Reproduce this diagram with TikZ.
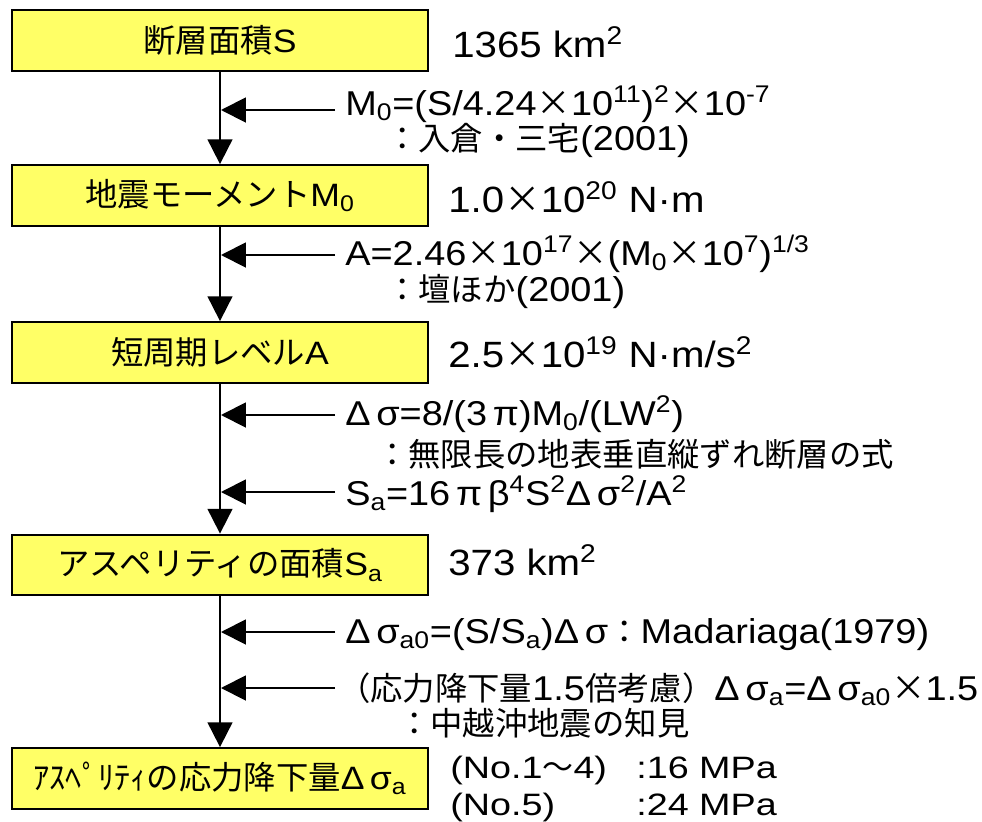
\documentclass[tikz,border=0pt]{standalone}
\usepackage{fontspec}
\setmainfont{Liberation Sans}[FakeStretch=1.1]
\newfontfamily\wide{Liberation Sans}[FakeStretch=1.22]
\newfontfamily\jp{Noto Sans CJK JP}
\usetikzlibrary{arrows.meta}
\definecolor{boxyellow}{RGB}{255,255,102}
\newcommand{\kt}{{\jp ×}}
\begin{document}
\begin{tikzpicture}[x=0.025cm,y=-0.025cm,font={\fontsize{24.5}{29}\selectfont},
	stage/.style={draw=black,line width=1.4pt,fill=boxyellow,minimum width=10.4cm,minimum height=1.52cm,inner sep=0pt,font={\fontsize{23}{27}\selectfont}},
	txt/.style={anchor=base west,inner sep=0pt},
	val/.style={txt,font={\fontsize{26}{30}\selectfont}},
	res/.style={txt,font={\wide\fontsize{22}{26}\selectfont}},
	flow/.style={line width=1.4pt,-{Triangle[length=0.62cm,width=0.62cm]}}]
	\useasboundingbox (0,0) rectangle (982,822);
	%%Các ô chính
	\node[stage] (b1) at (220,40.5) {{\jp 断層面積}S};
	\node[stage] (b2) at (220,195.5) {{\jp 地震モーメント}M\textsubscript{0}};
	\node[stage] (b3) at (220,352.5) {{\jp 短周期レベル}A};
	\node[stage] (b4) at (220,565) {{\jp アスペリティの面積}S\textsubscript{a}};
	\node[stage] (b5) at (220,778.5) {{\jp ｱｽﾍﾟﾘﾃｨの応力降下量}Δ\,σ\textsubscript{a}};
	%%Giá trị bên phải
	\node[val] (v1) at (452,57) {1365 km\textsuperscript{2}};
	\node[val] (v2) at (448,212) {1.0\kt10\textsuperscript{20} N·m};
	\node[val] (v3) at (448,367) {2.5\kt10\textsuperscript{19} N·m/s\textsuperscript{2}};
	\node[val] (v4) at (448,575) {373 km\textsuperscript{2}};
	\node[res] (v5) at (450,778) {(No.1{\jp ～}4)};
	\node[res] (v6) at (636,778) {:16 MPa};
	\node[res] (v7) at (450,815) {(No.5)};
	\node[res] (v8) at (636,815) {:24 MPa};
	%%Công thức
	\node[txt] (f1) at (345,115) {M\textsubscript{0}=(S/4.24\kt10\textsuperscript{11})\textsuperscript{2}\kt10\textsuperscript{-7}};
	\node[txt] (c1) at (386,150) {{\jp\fontsize{23}{27}\selectfont ：入倉・三宅}(2001)};
	\node[txt] (f2) at (345,265) {A=2.46\kt10\textsuperscript{17}\kt(M\textsubscript{0}\kt10\textsuperscript{7})\textsuperscript{1/3}};
	\node[txt] (c2) at (386,301) {{\jp\fontsize{23}{27}\selectfont ：壇ほか}(2001)};
	\node[txt] (f3) at (345,425) {Δ\,σ=8/(3\,π)M\textsubscript{0}/(LW\textsuperscript{2})};
	\node[txt] (c3) at (376,466) {\jp\fontsize{23}{27}\selectfont ：無限長の地表垂直縦ずれ断層の式};
	\node[txt] (f4) at (345,505) {S\textsubscript{a}=16\,π\,β\textsuperscript{4}S\textsuperscript{2}Δ\,σ\textsuperscript{2}/A\textsuperscript{2}};
	\node[txt] (f5) at (345,643) {Δ\,σ\textsubscript{a0}=(S/S\textsubscript{a})Δ\,σ{\jp\fontsize{23}{27}\selectfont ：}Madariaga(1979)};
	\node[txt] (f6) at (338,700) {{\jp\fontsize{23}{27}\selectfont （応力降下量}1.5{\jp\fontsize{23}{27}\selectfont 倍考慮）}Δ\,σ\textsubscript{a}=Δ\,σ\textsubscript{a0}\kt1.5};
	\node[txt] (c6) at (398,735) {\jp\fontsize{23}{27}\selectfont ：中越沖地震の知見};
	%%Mũi tên dọc
	\foreach \a/\b in {b1/b2,b2/b3,b3/b4,b4/b5}
		\draw[flow] (\a) -- (\b);
	%%Mũi tên ngang
	\foreach \i/\y in {1/110,2/255,3/415,4/492,5/632,6/688}{
		\coordinate (s\i) at (335,\y);
		\coordinate (t\i) at (221,\y);
		\draw[flow] (s\i) -- (t\i);
	}
\end{tikzpicture}
\end{document}
